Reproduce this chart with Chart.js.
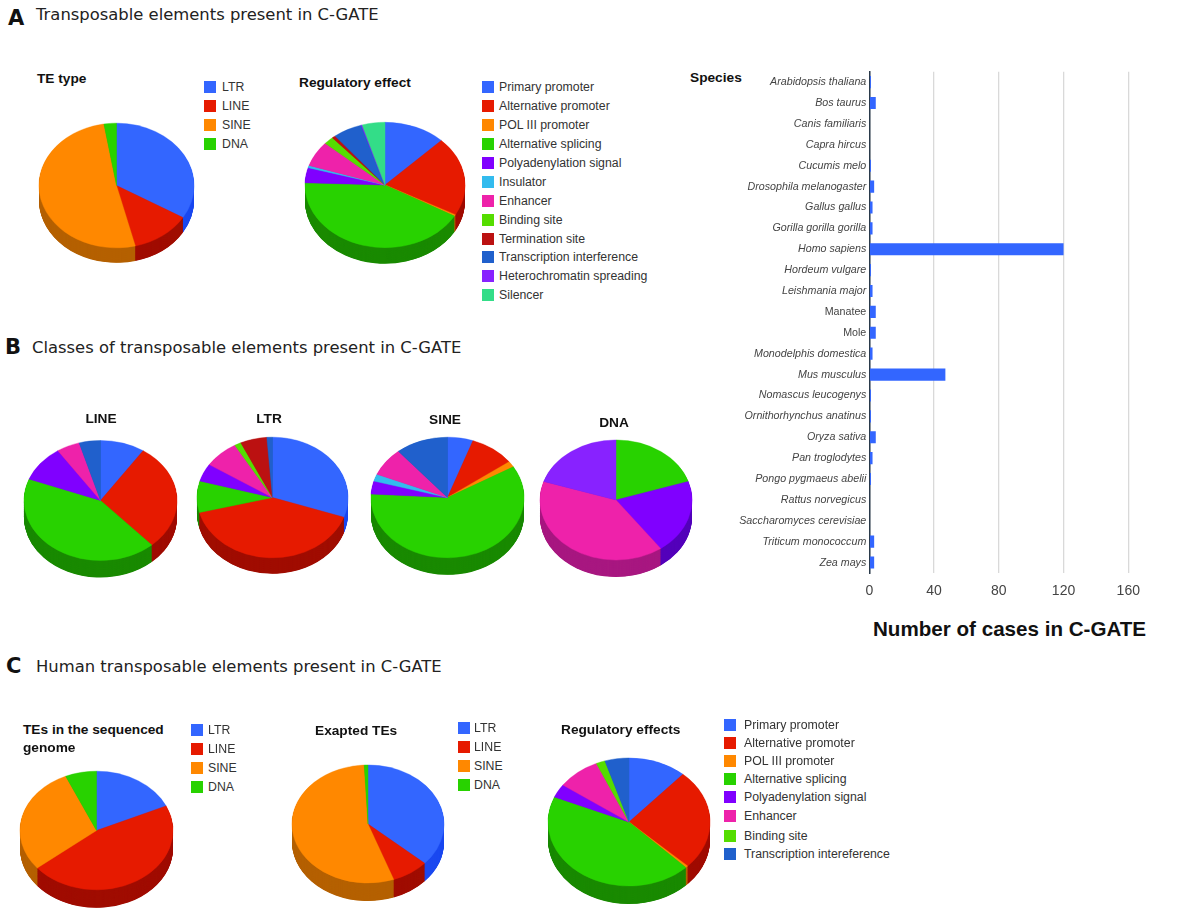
<!DOCTYPE html>
<html>
<head>
<meta charset="utf-8">
<script src="https://cdn.jsdelivr.net/npm/chart.js@4"></script>
<style>
html,body{margin:0;padding:0;background:#fff;width:1200px;height:914px;overflow:hidden}
#stage{position:relative;width:1200px;height:914px}
canvas{position:absolute}
.t{position:absolute;white-space:nowrap;line-height:1;transform:translateY(-50%);font-family:"Liberation Sans",sans-serif}
.sw{position:absolute;width:12px;height:12px;transform:translateY(-50%)}
.head{font-family:"DejaVu Sans",sans-serif;font-size:16.4px;color:#222}
.letter{font-family:"DejaVu Sans",sans-serif;font-weight:bold;font-size:21px;color:#111}
.ct{font-weight:bold;font-size:13.7px;color:#111}
.lg{font-size:12.3px;color:#333}
</style>
</head>
<body>
<div id="stage"></div>
<script>
// ---- data ----
const teLabels = ["LTR","LINE","SINE","DNA"];
const teTypeA = [33.6,12.5,51.3,2.6];
const regLabelsA = ["Primary promoter","Alternative promoter","POL III promoter","Alternative splicing","Polyadenylation signal","Insulator","Enhancer","Binding site","Termination site","Transcription interference","Heterochromatin spreading","Silencer"];
const regValuesA = [12.4,20.4,0.4,42.2,3.9,0.6,6.5,2.0,0.7,5.9,0.2,4.6];

const lineLabels = ["Primary promoter","Alternative promoter","Alternative splicing","Polyadenylation signal","Enhancer","Transcription interference"];
const lineValues = [9.4,28.9,42.5,9.8,4.9,4.5];
const ltrLabels = ["Primary promoter","Alternative promoter","Alternative splicing","Polyadenylation signal","Enhancer","Binding site","Termination site","Transcription interference"];
const ltrValues = [30.3,40.7,8.4,4.8,7.5,1.4,5.7,1.2];
const sineLabels = ["Primary promoter","Alternative promoter","POL III promoter","Alternative splicing","Polyadenylation signal","Insulator","Enhancer","Transcription interference"];
const sineValues = [5.4,9.5,1.6,59.4,3.5,1.9,7.6,11.1];
const dnaLabels = ["Alternative splicing","Polyadenylation signal","Enhancer","Heterochromatin spreading"];
const dnaValues = [20,20,40,20];

const teGenome = [18.2,45.9,29.3,6.6];
const teExapted = [36.6,7.9,54.7,0.8];
const regLabelsC = ["Primary promoter","Alternative promoter","POL III promoter","Alternative splicing","Polyadenylation signal","Enhancer","Binding site","Transcription intereference"];
const regValuesC = [11.6,25.5,0.5,43.8,3.4,8.6,1.8,4.8];

const species = ["Arabidopsis thaliana","Bos taurus","Canis familiaris","Capra hircus","Cucumis melo","Drosophila melanogaster","Gallus gallus","Gorilla gorilla gorilla","Homo sapiens","Hordeum vulgare","Leishmania major","Manatee","Mole","Monodelphis domestica","Mus musculus","Nomascus leucogenys","Ornithorhynchus anatinus","Oryza sativa","Pan troglodytes","Pongo pygmaeus abelii","Rattus norvegicus","Saccharomyces cerevisiae","Triticum monococcum","Zea mays"];
const cases = [1,4,0,0,1,3,2,2,120,1,2,4,4,2,47,1,1,4,2,1,0,0,3,3];
const commonNames = ["Manatee","Mole"];

// ---- styles ----
const topColor = {
  "LTR":"#3366FF","LINE":"#E61A00","SINE":"#FF8800","DNA":"#28D200",
  "Primary promoter":"#3366FF","Alternative promoter":"#E61A00","POL III promoter":"#FF8800",
  "Alternative splicing":"#28D200","Polyadenylation signal":"#8000FF","Insulator":"#33BBEE",
  "Enhancer":"#EE22AA","Binding site":"#55DD00","Termination site":"#BB1111",
  "Transcription interference":"#2060CC","Transcription intereference":"#2060CC",
  "Heterochromatin spreading":"#8822FF","Silencer":"#33DD88"
};
const sideColor = {
  "#3366FF":"#1A48F0","#E61A00":"#A00D00","#FF8800":"#B56100","#28D200":"#1A8A00",
  "#8000FF":"#5500BB","#33BBEE":"#2080A8","#EE22AA":"#A81880","#55DD00":"#3A9A00",
  "#BB1111":"#800808","#2060CC":"#14408C","#8822FF":"#5A14B0","#33DD88":"#209A5C"
};

const stage = document.getElementById('stage');
function text(str,x,y,cls,extra){
  const e=document.createElement('div');
  e.className='t '+cls; e.textContent=str;
  e.style.left=x+'px'; e.style.top=y+'px';
  if(extra) Object.assign(e.style,extra);
  stage.appendChild(e); return e;
}

const pie3d = {
  id:'pie3d',
  beforeDatasetsDraw(chart,args,opts){
    const ctx=chart.ctx, arcs=chart.getDatasetMeta(0).data, bg=chart.data.datasets[0].backgroundColor;
    const x0=arcs[0].x,y0=arcs[0].y;
    ctx.save();
    ctx.translate(x0,y0); ctx.scale(1,opts.sy); ctx.translate(-x0,-y0);
    for(let d=opts.depth/opts.sy;d>=0.5;d-=0.5){
      arcs.forEach((a,i)=>{
        ctx.beginPath();
        ctx.moveTo(a.x,a.y+d);
        ctx.arc(a.x,a.y+d,a.outerRadius,a.startAngle,a.endAngle);
        ctx.closePath();
        ctx.fillStyle=sideColor[bg[i]];
        ctx.fill();
      });
    }
  },
  afterDatasetsDraw(chart){ chart.ctx.restore(); }
};

function pie(labels,values,g){
  const size=Math.ceil(2*(g.rx+4));
  const c=document.createElement('canvas');
  c.width=size;c.height=size;
  c.style.left=(g.cx-size/2)+'px';c.style.top=(g.cy-size/2)+'px';
  c.style.width=size+'px';c.style.height=size+'px';
  stage.appendChild(c);
  const colors=labels.map(l=>topColor[l]);
  new Chart(c,{
    type:'pie',
    data:{labels:labels,datasets:[{data:values,backgroundColor:colors,borderColor:colors,borderWidth:0.5}]},
    options:{responsive:false,animation:false,radius:g.rx,
      layout:{padding:0},
      plugins:{legend:{display:false},tooltip:{enabled:false},pie3d:{sy:g.ry/g.rx,depth:g.d}}},
    plugins:[pie3d]
  });
}
function legend(labels,swX,txtX,ys){
  labels.forEach((l,i)=>{
    const s=document.createElement('div');
    s.className='sw';s.style.left=swX+'px';s.style.top=ys[i]+'px';s.style.background=topColor[l];
    stage.appendChild(s);
    text(l,txtX,ys[i],'lg');
  });
}
function rows(start,step,n){const r=[];for(let i=0;i<n;i++)r.push(start+step*i);return r;}

// ---- headings ----
text("A",8,18,'letter');
text("Transposable elements present in C-GATE",36,15,'head');
text("B",5,347,'letter');
text("Classes of transposable elements present in C-GATE",32,348,'head');
text("C",6,666,'letter');
text("Human transposable elements present in C-GATE",36,667,'head');

// ---- panel A ----
pie(teLabels,teTypeA,{cx:116.5,cy:185,rx:77.5,ry:62.3,d:15});
pie(regLabelsA,regValuesA,{cx:385,cy:185,rx:80,ry:62.7,d:16});
text("TE type",37,79,'ct');
text("Regulatory effect",299,83,'ct');
legend(teLabels,204,222,rows(87.3,19,4));
legend(regLabelsA,482,499,rows(87.3,18.9,12));

// ---- panel B ----
pie(lineLabels,lineValues,{cx:100.5,cy:500,rx:76.5,ry:60,d:17});
pie(ltrLabels,ltrValues,{cx:272.5,cy:497.7,rx:75.5,ry:60.3,d:16});
pie(sineLabels,sineValues,{cx:447.5,cy:497.7,rx:76.5,ry:60.3,d:17});
pie(dnaLabels,dnaValues,{cx:616,cy:500,rx:76,ry:60,d:17});
text("LINE",101,419,'ct',{transform:'translate(-50%,-50%)'});
text("LTR",269,419,'ct',{transform:'translate(-50%,-50%)'});
text("SINE",445,420,'ct',{transform:'translate(-50%,-50%)'});
text("DNA",614,423,'ct',{transform:'translate(-50%,-50%)'});

// ---- panel C ----
pie(teLabels,teGenome,{cx:96.5,cy:830,rx:76.5,ry:59.3,d:18});
pie(teLabels,teExapted,{cx:368,cy:824,rx:76,ry:59,d:18});
pie(regLabelsC,regValuesC,{cx:629,cy:822,rx:81,ry:64,d:18});
text("TEs in the sequenced",23,730,'ct');
text("genome",23,747.5,'ct');
text("Exapted TEs",315,731,'ct');
text("Regulatory effects",561,730,'ct');
legend(teLabels,191,208,rows(730.3,19,4));
legend(teLabels,458,474,rows(728.3,19,4));
legend(regLabelsC,724,744,[724.7,742.7,761,778.7,796.7,816.3,836,854.3]);

// ---- species bars ----
text("Species",690,78,'ct');
text("Number of cases in C-GATE",873,629,'',{fontWeight:'bold',fontSize:'20.6px',color:'#111'});
const bc=document.createElement('canvas');
bc.width=450;bc.height=553;
bc.style.left='700px';bc.style.top='60px';bc.style.width='450px';bc.style.height='553px';
stage.appendChild(bc);
new Chart(bc,{
  type:'bar',
  data:{labels:species,datasets:[{data:cases,backgroundColor:'#3366FF',borderWidth:0,categoryPercentage:1,barPercentage:0.58}]},
  options:{
    indexAxis:'y',responsive:false,animation:false,
    layout:{padding:{top:11.7,right:21.7,bottom:0,left:0}},
    plugins:{legend:{display:false},tooltip:{enabled:false}},
    scales:{
      x:{min:0,max:160,
        border:{display:false},
        grid:{color:'#d9d9d9',lineWidth:1.3,drawTicks:false},
        ticks:{stepSize:40,padding:10,color:'#444',font:{family:'"Liberation Sans"',size:14},maxRotation:0},
        afterFit(s){s.height=40;s.paddingLeft=0;s.paddingRight=0;}
      },
      y:{
        border:{color:'#2a3a4a',width:1.5},
        grid:{display:false,drawTicks:false},
        ticks:{padding:3,color:'#444',autoSkip:false,
          font:ctx=>({family:'"Liberation Sans"',size:10.7,style:commonNames.includes(species[ctx.index])?'normal':'italic'})},
        afterFit(s){s.width=169.3;s.paddingTop=0;s.paddingBottom=0;}
      }
    }
  }
});
</script>
</body>
</html>
